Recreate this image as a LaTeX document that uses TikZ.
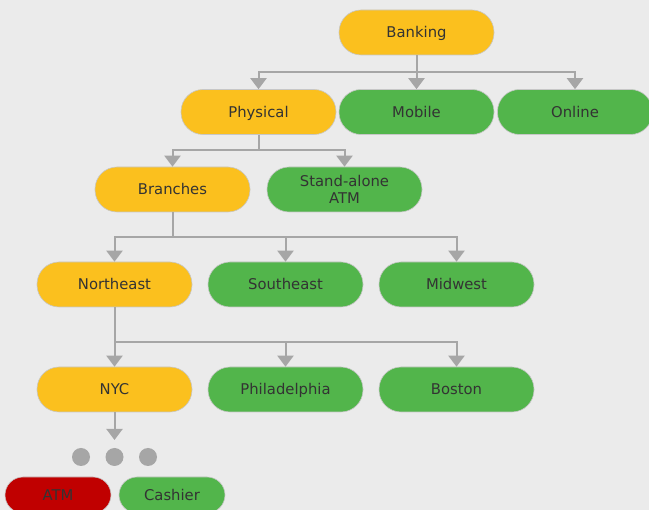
\documentclass[tikz,border=0pt]{standalone}
\usepackage{fontspec}
\setmainfont{DejaVu Sans}
\usetikzlibrary{arrows.meta}
\definecolor{bg}{HTML}{EBEBEB}
\definecolor{ylw}{HTML}{FBC01E}
\definecolor{grn}{HTML}{52B54B}
\definecolor{rd}{HTML}{C00000}
\definecolor{ln}{HTML}{A6A6A6}
\definecolor{txt}{HTML}{333333}
\begin{document}
\begin{tikzpicture}[x=1pt,y=-1pt,
  box/.style={draw=black!22,line width=0.6pt,rounded corners=22pt,minimum width=155pt,minimum height=45pt,inner sep=0pt,align=center,text=txt,font=\fontsize{14.8}{17}\selectfont},
  one/.style={text height=10.7pt,text depth=0pt},
  yb/.style={box,one,fill=ylw},
  gb/.style={box,one,fill=grn},
  gb2/.style={box,fill=grn},
  rb/.style={box,one,fill=rd,minimum width=106pt,minimum height=36pt,rounded corners=18pt},
  gs/.style={box,one,fill=grn,minimum width=106pt,minimum height=36pt,rounded corners=18pt},
  conn/.style={draw=ln,line width=2pt},
  arr/.style={conn,-{Triangle[width=16pt,length=11pt]}},
  dot/.style={circle,fill=ln,minimum size=18pt,inner sep=0pt}]
\useasboundingbox[fill=bg] (0,0) rectangle (649,510);
\node[yb] (bank) at (416.5,32.5) {Banking};
\node[yb] (phys) at (258.5,112) {Physical};
\node[gb] (mob) at (416.5,112) {Mobile};
\node[gb] (onl) at (575,112) {Online};
\node[yb] (bran) at (172.5,189.5) {Branches};
\node[gb2] (sa) at (344.5,189.5) {Stand-alone\\ATM};
\node[yb] (ne) at (114.5,284.5) {Northeast};
\node[gb] (se) at (285.5,284.5) {Southeast};
\node[gb] (mw) at (456.5,284.5) {Midwest};
\node[yb] (nyc) at (114.5,389.5) {NYC};
\node[gb] (phl) at (285.5,389.5) {Philadelphia};
\node[gb] (bos) at (456.5,389.5) {Boston};
\node[dot] (d1) at (81,457) {};
\node[dot] (d2) at (114.5,457) {};
\node[dot] (d3) at (148,457) {};
\node[rb] (atm) at (58,495) {ATM};
\node[gs] (cash) at (172,495) {Cashier};
% connectors
\coordinate (j1) at (416.5,72);
\draw[conn] (bank.south) -- (j1);
\draw[arr] (j1) -| (phys.north);
\draw[arr] (j1) -- (mob.north);
\draw[arr] (j1) -| (onl.north);
\coordinate (j2) at (258.5,150);
\draw[conn] (phys.south) -- (j2);
\draw[arr] (j2) -| (bran.north);
\draw[arr] (j2) -| (sa.north);
\coordinate (j3) at (172.5,237);
\draw[conn] (bran.south) -- (j3);
\draw[arr] (j3) -| (ne.north);
\draw[arr] (j3) -| (se.north);
\draw[arr] (j3) -| (mw.north);
\coordinate (j4) at (114.5,342);
\draw[conn] (ne.south) -- (j4);
\draw[arr] (j4) -- (nyc.north);
\draw[arr] (j4) -| (phl.north);
\draw[arr] (j4) -| (bos.north);
\coordinate (e5) at (114.5,440);
\draw[arr] (nyc.south) -- (e5);
\end{tikzpicture}
\end{document}
